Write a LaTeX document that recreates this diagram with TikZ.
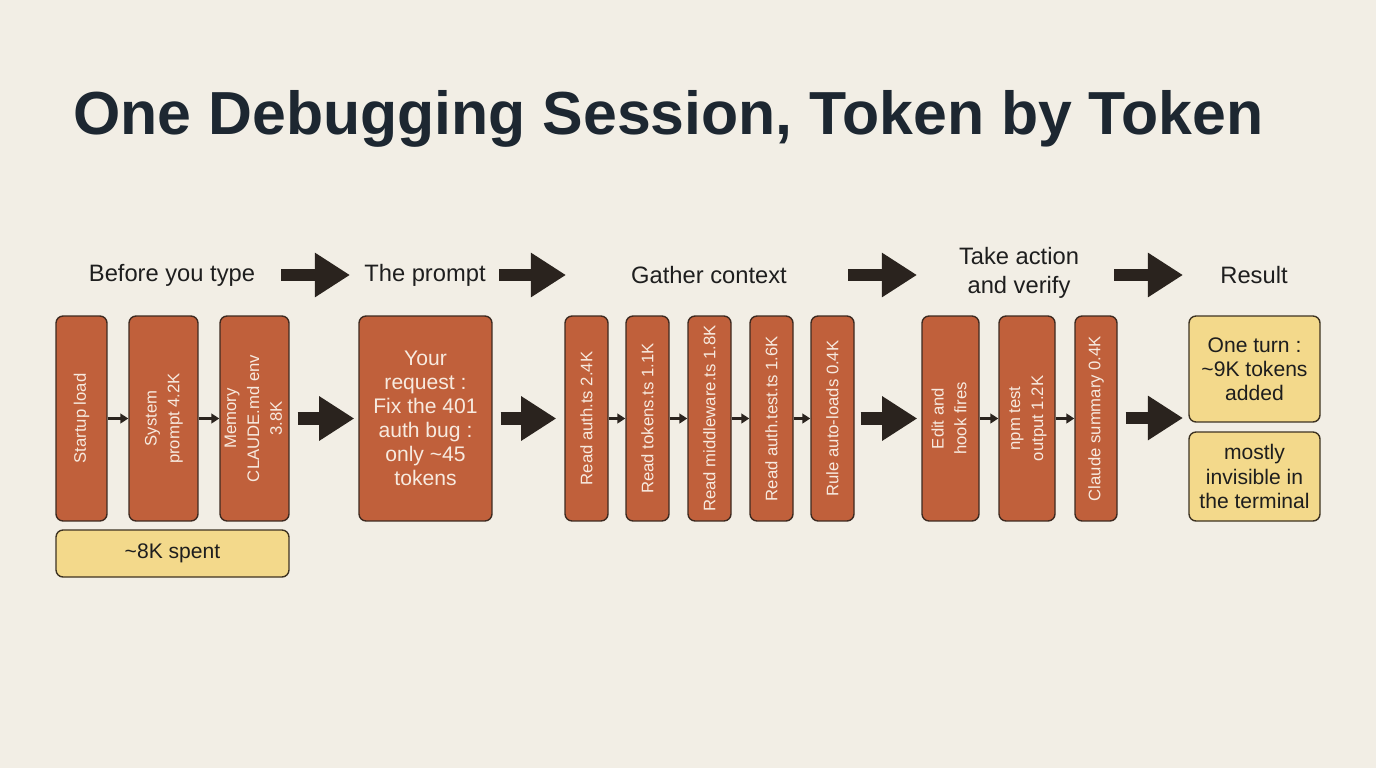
\documentclass[tikz,border=0pt]{standalone}
\usepackage{fontspec}
\setmainfont{Liberation Sans}
\usetikzlibrary{arrows.meta}
\definecolor{bg}{HTML}{F2EEE5}
\definecolor{titlec}{HTML}{1D2731}
\definecolor{boxfill}{HTML}{C0603B}
\definecolor{boxline}{HTML}{3E2A20}
\definecolor{boxtext}{HTML}{F7EADF}
\definecolor{yfill}{HTML}{F3D98B}
\definecolor{yline}{HTML}{3E3322}
\definecolor{arrc}{HTML}{2A231E}
\definecolor{txt}{HTML}{1E1E1E}
\begin{document}
\begin{tikzpicture}[x=0.02cm,y=-0.02cm,
  obox/.style={draw=boxline, fill=boxfill, line width=0.8pt, rounded corners=4pt,
    inner sep=0pt, minimum height=4.1cm, text=boxtext,
    font=\fontsize{9.5}{13}\selectfont},
  ybox/.style={draw=yline, fill=yfill, line width=0.8pt, rounded corners=4pt,
    inner sep=0pt, minimum width=2.62cm, text=txt, align=center,
    font=\fontsize{12}{13.7}\selectfont},
  hdr/.style={text=txt, align=center, inner sep=0pt,
    font=\fontsize{13.5}{16.5}\selectfont},
  bigarr/.style={draw=arrc, line width=7pt, -{Triangle[length=20pt,width=24pt]}},
  smallarr/.style={draw=arrc, line width=1.3pt, -{Triangle[length=4.5pt,width=5.5pt]}},
]
\fill[bg] (0,0) rectangle (1376,768);
\useasboundingbox (0,0) rectangle (1376,768);

% title
\node[anchor=base west, inner sep=0pt, text=titlec,
  font=\fontsize{34.6}{40}\selectfont\bfseries] (title) at (73,134)
  {One Debugging Session, Token by Token};

% headers
\node[hdr] (h1) at (172,275) {Before you type};
\node[hdr] (h2) at (425,275) {The prompt};
\node[hdr] (h3) at (709,275) {Gather context};
\node[hdr] (h4) at (1019,273) {Take action\\and verify};
\node[hdr] (h5) at (1254,275) {Result};

\coordinate (ha1s) at (281,275); \coordinate (ha1e) at (350,275);
\coordinate (ha2s) at (499,275); \coordinate (ha2e) at (566,275);
\coordinate (ha3s) at (848,275); \coordinate (ha3e) at (917,275);
\coordinate (ha4s) at (1114,275); \coordinate (ha4e) at (1183,275);
\draw[bigarr] (ha1s) -- (ha1e);
\draw[bigarr] (ha2s) -- (ha2e);
\draw[bigarr] (ha3s) -- (ha3e);
\draw[bigarr] (ha4s) -- (ha4e);

% before you type
\node[obox, minimum width=1.02cm] (n1) at (81.5,418.5) {\rotatebox{90}{Startup load}};
\node[obox, minimum width=1.38cm] (n2) at (163.5,418.5)
  {\rotatebox{90}{\begin{tabular}{@{}c@{}}System\\prompt 4.2K\end{tabular}}};
\node[obox, minimum width=1.38cm] (n3) at (254.5,418.5)
  {\rotatebox{90}{\begin{tabular}{@{}c@{}}Memory\\CLAUDE.md env\\3.8K\end{tabular}}};
\node[ybox, minimum width=4.66cm, minimum height=0.94cm] (spent) at (172.5,553.5) {\textasciitilde 8K spent};

% prompt
\node[obox, minimum width=2.66cm, align=center, font=\fontsize{12}{13.7}\selectfont] (req) at (425.5,418.5)
  {Your\\request :\\Fix the 401\\auth bug :\\only \textasciitilde 45\\tokens};

% gather context
\node[obox, minimum width=0.86cm] (g1) at (586.5,418.5) {\rotatebox{90}{Read auth.ts 2.4K}};
\node[obox, minimum width=0.86cm] (g2) at (647.5,418.5) {\rotatebox{90}{Read tokens.ts 1.1K}};
\node[obox, minimum width=0.86cm] (g3) at (709.5,418.5) {\rotatebox{90}{Read middleware.ts 1.8K}};
\node[obox, minimum width=0.86cm] (g4) at (771.5,418.5) {\rotatebox{90}{Read auth.test.ts 1.6K}};
\node[obox, minimum width=0.86cm] (g5) at (832.5,418.5) {\rotatebox{90}{Rule auto-loads 0.4K}};

% take action
\node[obox, minimum width=1.14cm] (a1) at (950.5,418.5)
  {\rotatebox{90}{\begin{tabular}{@{}c@{}}Edit and\\hook fires\end{tabular}}};
\node[obox, minimum width=1.12cm] (a2) at (1027,418.5)
  {\rotatebox{90}{\begin{tabular}{@{}c@{}}npm test\\output 1.2K\end{tabular}}};
\node[obox, minimum width=0.84cm] (a3) at (1096,418.5) {\rotatebox{90}{Claude summary 0.4K}};

% result
\node[ybox, minimum height=2.12cm] (r1) at (1254.5,369) {One turn :\\\textasciitilde 9K tokens\\added};
\node[ybox, minimum height=1.78cm] (r2) at (1254.5,476.5) {mostly\\invisible in\\the terminal};
\coordinate (res) at (1189,418);

% small arrows
\draw[smallarr] (n1) -- (n2);
\draw[smallarr] (n2) -- (n3);
\draw[smallarr] (g1) -- (g2);
\draw[smallarr] (g2) -- (g3);
\draw[smallarr] (g3) -- (g4);
\draw[smallarr] (g4) -- (g5);
\draw[smallarr] (a1) -- (a2);
\draw[smallarr] (a2) -- (a3);

% big arrows between stages
\draw[bigarr, shorten <=0.16cm, shorten >=0.08cm] (n3.east) -- (req.west);
\draw[bigarr, shorten <=0.16cm, shorten >=0.16cm] (req.east) -- (g1.west);
\draw[bigarr, shorten <=0.12cm, shorten >=0.08cm] (g5.east) -- (a1.west);
\draw[bigarr, shorten <=0.16cm, shorten >=0.12cm] (a3.east |- res) -- (res);
\end{tikzpicture}
\end{document}
